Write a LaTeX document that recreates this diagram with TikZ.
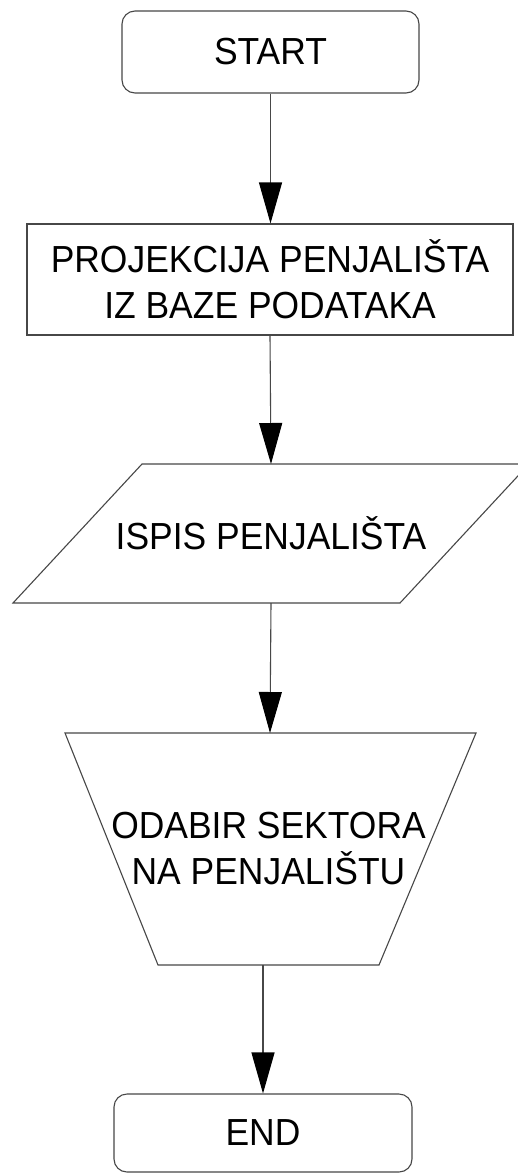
\documentclass[tikz,border=0pt]{standalone}
\usepackage{fontspec}
\setmainfont{Liberation Sans}[FakeStretch=0.94]
\usetikzlibrary{arrows.meta}
\begin{document}
\begin{tikzpicture}[x=1pt,y=-1pt,
  lbl/.style={font=\fontsize{37.7}{46}\selectfont, align=center, inner sep=0pt},
  termbox/.style={draw=black!72, line width=1.1pt, rounded corners=13pt, inner sep=0pt, minimum width=297pt},
  procbox/.style={draw=black!72, line width=1.1pt, inner sep=0pt},
  shapeline/.style={draw=black!72, line width=1.1pt, line join=miter},
  arr/.style={draw=black!72, line width=1.1pt, -{Triangle[length=41pt,width=23pt,color=black]}}
]
\useasboundingbox (0,0) rectangle (518,1173);
\fill[white] (0,0) rectangle (518,1173);

% START
\node[termbox, lbl, minimum height=82pt] (start) at (270.5,52) {START};

% Process box
\node[procbox, lbl, minimum width=486pt, minimum height=111pt] (proj) at (270,279.5)
  {PROJEKCIJA PENJALIŠTA\\IZ BAZE PODATAKA};

% Parallelogram (output)
\draw[shapeline] (142,464) -- (529,464) -- (400,603) -- (13,603) -- cycle;
\node[lbl] (ispis) at (271,533.5) {ISPIS PENJALIŠTA};
\coordinate (ispisTop) at (271,464);
\coordinate (ispisBot) at (271,603);

% Trapezoid (manual operation)
\draw[shapeline] (65,733) -- (476,733) -- (379,965) -- (158,965) -- cycle;
\node[lbl] (odabir) at (268.5,849) {ODABIR SEKTORA\\NA PENJALIŠTU};
\coordinate (odabirTop) at (270,733);
\coordinate (odabirBot) at (263,965);

% END
\node[termbox, lbl, minimum width=298pt, minimum height=78pt] (endn) at (263,1133) {END};

% Connectors
\draw[arr] (start.south) -- (start.south |- proj.north);
\draw[arr] (proj.south) -- (ispisTop);
\draw[arr] (ispisBot) -- (odabirTop);
\draw[arr] (odabirBot) -- (endn.north);
\end{tikzpicture}
\end{document}
